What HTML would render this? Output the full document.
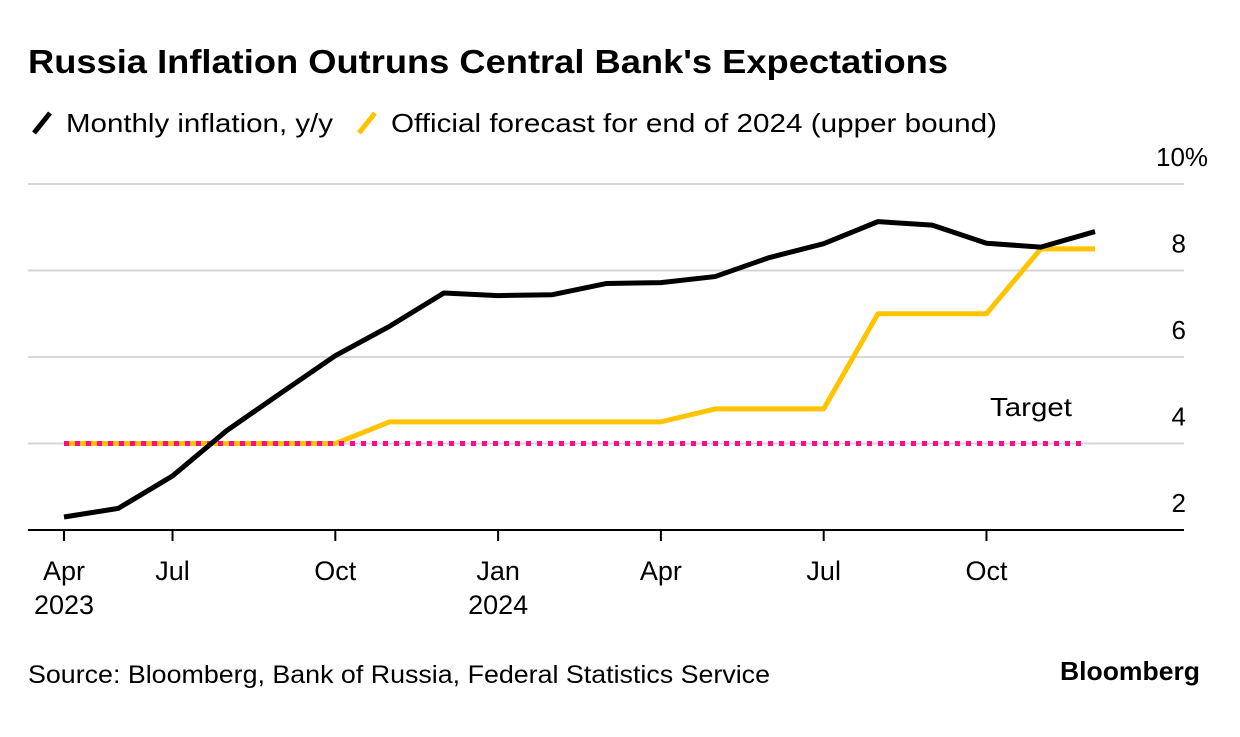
<!DOCTYPE html>
<html><head><meta charset="utf-8"><style>
body{margin:0;background:#fff;width:1240px;height:732px;overflow:hidden;font-family:"Liberation Sans",sans-serif;}
</style></head><body>
<svg width="1240" height="732" viewBox="0 0 1240 732" xmlns="http://www.w3.org/2000/svg" font-family="Liberation Sans, sans-serif">
<text x="28" y="73" font-size="33" font-weight="bold" fill="#000" textLength="920" lengthAdjust="spacingAndGlyphs">Russia Inflation Outruns Central Bank's Expectations</text>
<g>
<line x1="34" y1="133" x2="50" y2="113" stroke="#000" stroke-width="5"/>
<text x="66" y="132" font-size="26" fill="#000" textLength="267" lengthAdjust="spacingAndGlyphs">Monthly inflation, y/y</text>
<line x1="359" y1="133" x2="375" y2="113" stroke="#ffc400" stroke-width="5"/>
<text x="391" y="132" font-size="26" fill="#000" textLength="606" lengthAdjust="spacingAndGlyphs">Official forecast for end of 2024 (upper bound)</text>
</g>
<g id="grid"></g><g id="xaxis"></g><g id="series"></g>
<text x="990" y="416" font-size="26" fill="#000" textLength="82" lengthAdjust="spacingAndGlyphs">Target</text>
<text x="28" y="683" font-size="25" fill="#000" textLength="742" lengthAdjust="spacingAndGlyphs">Source: Bloomberg, Bank of Russia, Federal Statistics Service</text>
<text x="1060" y="680" font-size="26" font-weight="bold" fill="#000" textLength="140" lengthAdjust="spacingAndGlyphs">Bloomberg</text>
</svg>
<script>
const inflation=[2.3,2.5,3.25,4.3,5.17,6.03,6.71,7.48,7.42,7.44,7.7,7.72,7.86,8.3,8.62,9.13,9.05,8.63,8.54,8.9];
const forecast=[4,4,4,4,4,4,4.5,4.5,4.5,4.5,4.5,4.5,4.8,4.8,4.8,7,7,7,8.5,8.5];
const target=[4,4];
const yTicks=[2,4,6,8,10];
const yTickLabels=["2","4","6","8","10%"];
const xTickIdx=[0,2,5,8,11,14,17];
const xTickLabels=[["Apr","2023"],["Jul"],["Oct"],["Jan","2024"],["Apr"],["Jul"],["Oct"]];
const NS="http://www.w3.org/2000/svg";
const x=i=>64+i*(1095-64)/19;
const y=v=>530-(v-2)*(530-184)/8;
function mk(tag,attrs,parent,text){const e=document.createElementNS(NS,tag);for(const k in attrs)e.setAttribute(k,attrs[k]);if(text!==undefined)e.textContent=text;parent.appendChild(e);return e;}
const grid=document.getElementById('grid');
yTicks.forEach((v,i)=>{
 if(v>2){const l=mk('line',{x1:28,x2:1184,y1:y(v),y2:y(v),stroke:'#d6d6d6','stroke-width':2},grid);
 
 }
 const last=i===yTicks.length-1;
 const t=mk('text',{x:last?1156:1186,y:y(v)-18,'font-size':26,'text-anchor':last?'start':'end',fill:'#000'},grid,yTickLabels[i]);
 
 
});
const xa=document.getElementById('xaxis');
const ax=mk('line',{x1:28,x2:1184,y1:530,y2:530,stroke:'#000','stroke-width':2},xa);


xTickIdx.forEach((idx,i)=>{
 const tk=mk('line',{x1:x(idx),x2:x(idx),y1:530,y2:541,stroke:'#000','stroke-width':2},xa);
 
 
 xTickLabels[i].forEach((s,j)=>{
  const t=mk('text',{x:x(idx),y:580+j*34,'font-size':27,'text-anchor':'middle',fill:'#000'},xa,s);
  
  
 });
});
const sg=document.getElementById('series');
const fp=mk('polyline',{points:forecast.map((v,i)=>x(i)+','+y(v)).join(' '),fill:'none',stroke:'#ffc400','stroke-width':5,'stroke-linejoin':'round'},sg);


const tl=mk('line',{x1:x(0),x2:1085,y1:y(target[0]),y2:y(target[1]),stroke:'#ff0a8c','stroke-width':5,'stroke-dasharray':'5 6'},sg);


const ip=mk('polyline',{points:inflation.map((v,i)=>x(i)+','+y(v)).join(' '),fill:'none',stroke:'#000','stroke-width':5,'stroke-linejoin':'round'},sg);


</script>
</body></html>
